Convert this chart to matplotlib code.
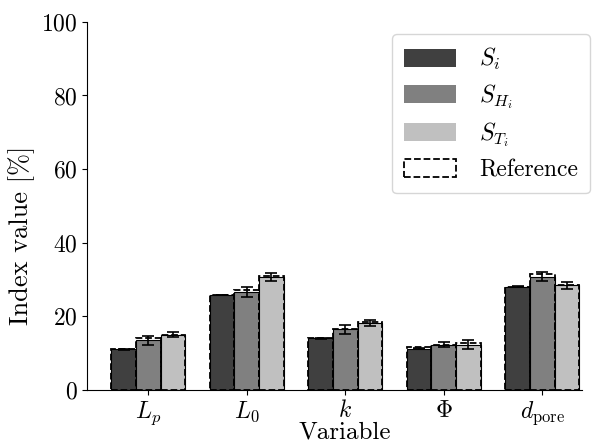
import matplotlib
import numpy as np

matplotlib.use("Agg")
import matplotlib.pyplot as plt
from matplotlib.patches import Patch

plt.rcParams["font.family"] = "serif"
plt.rcParams["font.serif"] = ["cmr10"]
plt.rcParams["mathtext.fontset"] = "cm"
plt.rcParams["axes.formatter.use_mathtext"] = True
plt.rcParams["font.size"] = 17

variables = [r"$L_p$", r"$L_0$", r"$k$", r"$\Phi$", r"$d_{\mathrm{pore}}$"]
series_labels = [r"$S_i$", r"$S_{H_i}$", r"$S_{T_i}$"]
colors = ["#404040", "#808080", "#c0c0c0"]

s_i = [11.0, 25.8, 14.0, 11.2, 28.0]
s_h = [13.5, 26.6, 16.5, 12.2, 30.7]
s_t = [15.0, 30.7, 18.2, 12.3, 28.4]
err_i = [0.1, 0.1, 0.1, 0.1, 0.1]
err_h = [1.2, 1.3, 1.2, 0.7, 1.2]
err_t = [0.7, 1.0, 0.8, 1.1, 0.9]

ref_i = [11.0, 25.8, 14.0, 11.5, 28.0]
ref_h = [14.0, 27.0, 16.5, 12.3, 31.6]
ref_t = [15.0, 30.8, 18.3, 12.6, 28.6]

values = [s_i, s_h, s_t]
errors = [err_i, err_h, err_t]
refs = [ref_i, ref_h, ref_t]

x = np.arange(len(variables))
width = 0.25

fig = plt.figure(figsize=(5.93, 4.46), dpi=100)
ax = fig.add_axes([0.147, 0.126, 0.834, 0.825])

for j in range(3):
    pos = x + (j - 1) * width
    ax.bar(pos, values[j], width, color=colors[j], edgecolor="black", linewidth=0.8)
    ax.bar(pos, refs[j], width, fill=False, edgecolor="black", linestyle="--", linewidth=1.3)
    ax.errorbar(pos, values[j], yerr=errors[j], fmt="none", ecolor="black",
                elinewidth=1.2, capsize=4, capthick=1.2)

ax.set_xticks(x)
ax.set_xticklabels(variables)
ax.set_xlim(-0.62, 4.4)
ax.set_ylim(0, 100)
ax.set_yticks([0, 20, 40, 60, 80, 100])
ax.set_xlabel("Variable", fontsize=18, labelpad=-4, x=0.52)
ax.set_ylabel("Index value [%]", fontsize=19, labelpad=4, y=0.42)
ax.spines["top"].set_visible(False)
ax.spines["right"].set_visible(False)

handles = [Patch(facecolor=c) for c in colors]
handles.append(Patch(facecolor="white", edgecolor="black", linestyle="--", linewidth=1.3))
ax.legend(handles, series_labels + ["Reference"], loc="upper right", fontsize=17,
          handlelength=2.2, handleheight=0.8, handletextpad=1.0, borderpad=0.5,
          labelspacing=0.42, borderaxespad=0,
          bbox_to_anchor=(590 / 593, 1 - 34 / 446), bbox_transform=fig.transFigure)

fig.savefig("out.png", dpi=100)
